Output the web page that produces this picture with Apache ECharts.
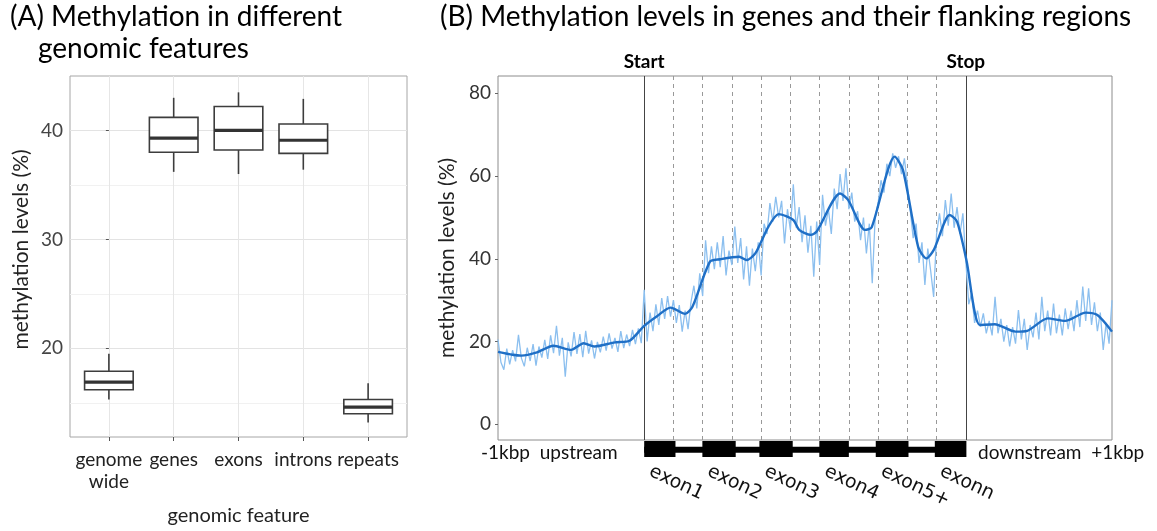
<!DOCTYPE html>
<html lang="en">
  <head>
    <meta charset="UTF-8" />
    <title>Methylation</title>
    <script src="https://cdn.jsdelivr.net/npm/echarts@6.0.0/dist/echarts.min.js"></script>
  </head>

  <body style="margin: 0; background: #fff">
    <div id="main" style="width: 1157px; height: 531px"></div>

    <script>
      // (A) boxplot by genomic feature
      var featureNames = ["genome\nwide", "genes", "exons", "introns", "repeats"];
      var boxLow = [15.3, 36.2, 36.0, 36.4, 13.2];
      var boxQ1 = [16.2, 38.0, 38.2, 37.9, 14.0];
      var boxMedian = [16.9, 39.3, 40.0, 39.1, 14.6];
      var boxQ3 = [17.9, 41.2, 42.2, 40.6, 15.3];
      var boxHigh = [19.5, 43.0, 43.5, 42.9, 16.8];
      var yTicksA = [20, 30, 40];
      var yMinorA = [15, 25, 35];

      // (B) methylation profile, bins of 0.1 (upstream 0-5, gene 5-16, downstream 16-21)
      var binStep = 0.1;
      var methRaw = [
        20.5, 15.0, 13.2, 18.3, 14.5, 17.9, 15.2, 21.6, 16.0, 14.0,
        18.5, 15.3, 19.4, 14.2, 18.8, 16.1, 20.4, 15.8, 21.5, 17.2,
        23.8, 16.6, 20.9, 11.5, 19.8, 16.4, 22.3, 17.0, 21.8, 16.2,
        22.6, 17.1, 20.3, 15.9, 19.9, 17.4, 21.2, 17.8, 22.0, 18.3,
        20.9, 17.5, 22.5, 18.4, 21.7, 18.9, 22.8, 19.4, 23.2, 19.6,
        32.5, 20.0, 27.0, 22.5, 29.0, 24.0, 30.5, 25.5, 31.0, 26.0,
        30.0, 24.5, 28.8, 22.4, 27.5, 23.0, 29.5, 33.5, 28.0, 36.5,
        31.0, 44.5, 36.5, 43.0, 37.5, 44.0, 38.0, 45.5, 36.0, 42.0,
        38.5, 47.8, 39.0, 45.0, 35.0, 43.0, 33.5, 42.5, 37.0, 44.0,
        36.0, 48.5, 46.0, 53.5, 49.0, 55.0, 50.0, 54.0, 43.7, 52.0,
        47.0, 58.0, 47.5, 52.5, 44.0, 50.5, 41.5, 48.0, 35.7, 49.0,
        38.5, 55.5, 48.0, 52.0, 46.0, 57.0, 52.0, 60.5, 54.0, 61.9,
        52.0, 56.0, 49.0, 51.5, 44.5, 50.0, 41.3, 48.5, 34.1, 50.0,
        53.5, 59.0, 56.0, 63.0, 60.0, 65.5, 62.0, 64.8, 60.5, 64.3,
        58.0, 51.8, 45.0, 48.5, 39.0, 44.0, 33.7, 42.5, 37.0, 30.8,
        46.0, 51.0, 45.5, 54.2, 48.0, 55.8, 47.5, 52.5, 46.0, 51.0,
        39.5, 29.0, 31.7, 24.5, 27.5, 23.6, 26.8, 22.0, 25.0, 21.5,
        30.8, 22.0, 25.5, 20.0, 24.0, 18.8, 23.5, 19.5, 27.6, 20.5,
        25.5, 18.0, 24.0, 21.0, 27.0, 20.5, 30.8, 22.5, 27.5, 21.5,
        29.2, 22.0, 26.5, 21.5, 28.0, 23.0, 27.5, 22.5, 30.0, 23.5,
        33.3, 25.0, 32.9, 24.0, 29.5, 22.5, 27.0, 18.0, 24.5, 19.5,
        30.0
      ];
      var smoothX = [0, 0.5, 0.8, 1.3, 1.9, 2.5, 2.93, 3.3, 4.0, 4.5, 5.0, 5.45, 5.9, 6.4, 6.65,
        7.25, 7.6, 8.25, 8.5, 8.8, 9.25, 9.6, 10.1, 10.3, 10.7, 10.9, 11.7, 11.98, 12.55, 12.78,
        13.57, 13.85, 14.37, 14.65, 14.9, 15.45, 15.7, 16.02, 16.48, 16.99, 17.7, 18.1, 18.8, 19.4,
        20.1, 20.5, 21];
      var smoothY = [17.5, 16.8, 16.6, 17.3, 19.0, 18.0, 19.6, 18.8, 19.8, 20.2, 23.8, 26.2, 28.2, 26.7, 28.4,
        39.3, 39.9, 40.5, 39.7, 41.3, 47.8, 50.8, 49.4, 47.0, 45.8, 46.6, 55.8, 54.2, 47.0, 47.6,
        64.7, 61.5, 42.9, 40.1, 42.1, 50.6, 49.0, 39.7, 24.0, 24.2, 22.4, 22.6, 25.6, 25.0,
        27.0, 26.4, 22.4];
      var yTicksB = [0, 20, 40, 60, 80];
      var geneStart = 5, geneStop = 16;
      var dashedAt = [6, 7, 8, 9, 10, 11, 12, 13, 14, 15];
      var exonNames = ["exon1", "exon2", "exon3", "exon4", "exon5+", "exonn"];
      var exonStarts = [5.0, 6.99, 8.94, 10.99, 12.92, 14.94];
      var exonEnds = [6.07, 8.13, 10.08, 12.0, 14.04, 16.02];

      var FONT = "Lato";
      var boxData = featureNames.map(function (n, i) {
        return [i, boxLow[i], boxQ1[i], boxMedian[i], boxQ3[i], boxHigh[i]];
      });
      var rawData = methRaw.map(function (v, i) {
        return [+(i * binStep).toFixed(1), v];
      });
      var smoothData = smoothX.map(function (x, i) {
        return [x, smoothY[i]];
      });
      var exonData = exonNames.map(function (n, i) {
        return [exonStarts[i], exonEnds[i]];
      });

      var edgeLabel = { show: true, position: "end", distance: 5, fontFamily: FONT, fontSize: 19,
        fontWeight: "bold", color: "#000" };
      var markLines = [
        { xAxis: geneStart, lineStyle: { type: "solid", color: "#444", width: 1 },
          label: Object.assign({ formatter: "Start" }, edgeLabel) },
        { xAxis: geneStop, lineStyle: { type: "solid", color: "#444", width: 1 },
          label: Object.assign({ formatter: "Stop" }, edgeLabel) }
      ].concat(dashedAt.map(function (x) {
        return { xAxis: x, lineStyle: { type: [4, 4], color: "#999", width: 1 }, label: { show: false } };
      }));

      function renderBox(params, api) {
        var x = api.value(0);
        var lo = api.coord([x, api.value(1)]);
        var q1 = api.coord([x, api.value(2)]);
        var md = api.coord([x, api.value(3)]);
        var q3 = api.coord([x, api.value(4)]);
        var hi = api.coord([x, api.value(5)]);
        var w = api.size([0.75, 0])[0];
        var line = { stroke: "#3d3d3d", lineWidth: 1.6 };
        return {
          type: "group",
          children: [
            { type: "line", shape: { x1: lo[0], y1: lo[1], x2: q1[0], y2: q1[1] }, style: line },
            { type: "line", shape: { x1: q3[0], y1: q3[1], x2: hi[0], y2: hi[1] }, style: line },
            { type: "rect", shape: { x: q3[0] - w / 2, y: q3[1], width: w, height: q1[1] - q3[1] },
              style: { stroke: "#3d3d3d", lineWidth: 1.6, fill: "#fff" } },
            { type: "line", shape: { x1: md[0] - w / 2, y1: md[1], x2: md[0] + w / 2, y2: md[1] },
              style: { stroke: "#333", lineWidth: 3.2 } }
          ]
        };
      }

      function renderIntron(params, api) {
        var a = api.coord([api.value(0), 0.45]);
        var b = api.coord([api.value(1), 0.45]);
        return { type: "rect", shape: { x: a[0], y: a[1] - 3, width: b[0] - a[0], height: 6 },
          style: { fill: "#000" } };
      }

      function renderExon(params, api) {
        var a = api.coord([api.value(0), 1]);
        var b = api.coord([api.value(1), 0]);
        return {
          type: "group",
          children: [
            { type: "rect", shape: { x: a[0], y: a[1], width: b[0] - a[0], height: b[1] - a[1] },
              style: { fill: "#000" } },
            { type: "text", x: a[0] + 10, y: b[1] + 5, rotation: -25 * Math.PI / 180,
              style: { text: exonNames[params.dataIndex], font: "19px 'DejaVu Sans'",
                fill: "#111", textAlign: "left", textVerticalAlign: "top" } }
          ]
        };
      }

      var chart = echarts.init(document.getElementById("main"));
      var titleStyle = { fontFamily: FONT, fontSize: 28, fontWeight: "normal", color: "#000" };
      var option = {
        animation: false,
        backgroundColor: "#fff",
        textStyle: { fontFamily: FONT },
        title: [
          { text: "(A) Methylation in different", left: 10, top: 3, padding: 0, textStyle: titleStyle },
          { text: "genomic features", left: 38, top: 35, padding: 0, textStyle: titleStyle },
          { text: "(B) Methylation levels in genes and their flanking regions", left: 440, top: 3,
            padding: 0, textStyle: titleStyle }
        ],
        grid: [
          { left: 70, top: 76, width: 337, height: 363, show: true, borderColor: "#a6a6a6", borderWidth: 1 },
          { left: 498, top: 76, width: 614, height: 364, show: true, borderColor: "#8c8c8c", borderWidth: 1 },
          { left: 498, top: 441, width: 614, height: 16 }
        ],
        xAxis: [
          { type: "value", gridIndex: 0, min: -0.6, max: 4.6,
            name: "genomic feature", nameLocation: "middle", nameGap: 69,
            nameTextStyle: { fontFamily: FONT, fontSize: 20, color: "#222" },
            axisLine: { show: false },
            axisTick: { show: true, length: 4, customValues: [0, 1, 2, 3, 4], lineStyle: { color: "#555" } },
            axisLabel: { customValues: [0, 1, 2, 3, 4], margin: 12, fontSize: 19, color: "#222",
              lineHeight: 22, formatter: function (v) { return featureNames[Math.round(v)]; } },
            splitLine: { show: true, lineStyle: { color: "#e6e6e6", width: 1 } } },
          { type: "value", gridIndex: 1, min: 0, max: 21, show: false },
          { type: "value", gridIndex: 2, min: 0, max: 21, show: false }
        ],
        yAxis: [
          { type: "value", gridIndex: 0, min: 11.86, max: 45,
            name: "methylation levels (%)", nameLocation: "middle", nameGap: 38,
            nameTextStyle: { fontFamily: FONT, fontSize: 21, color: "#222", padding: [0, 0, 0, 14] },
            axisLine: { show: false },
            axisTick: { show: true, length: 3, customValues: yTicksA, lineStyle: { color: "#555" } },
            axisLabel: { customValues: yTicksA, fontSize: 19, color: "#444", margin: 7 },
            splitLine: { show: true, lineStyle: { color: "#e3e3e3", width: 1 } } },
          { type: "value", gridIndex: 0, min: 11.86, max: 45, position: "right",
            axisLine: { show: false }, axisLabel: { show: false },
            axisTick: { show: false, customValues: yMinorA },
            splitLine: { show: true, lineStyle: { color: "#f1f1f1", width: 1 } } },
          { type: "value", gridIndex: 1, min: -3.8, max: 84.2,
            name: "methylation levels (%)", nameLocation: "middle", nameGap: 33,
            nameTextStyle: { fontFamily: FONT, fontSize: 21, color: "#222" },
            axisLine: { show: false },
            axisTick: { show: true, length: 3, customValues: yTicksB, lineStyle: { color: "#666" } },
            axisLabel: { customValues: yTicksB, fontSize: 19, color: "#333", margin: 7 },
            splitLine: { show: false } },
          { type: "value", gridIndex: 2, min: 0, max: 1, show: false }
        ],
        series: [
          { type: "custom", xAxisIndex: 0, yAxisIndex: 0, data: boxData, renderItem: renderBox,
            encode: { x: 0, y: [1, 2, 3, 4, 5] }, silent: true },
          { type: "line", xAxisIndex: 1, yAxisIndex: 2, data: rawData, showSymbol: false,
            lineStyle: { color: "#8bbfef", width: 1.3 }, silent: true, z: 3,
            markLine: { symbol: ["none", "none"], silent: true, z: 2, label: edgeLabel,
              data: markLines } },
          { type: "line", xAxisIndex: 1, yAxisIndex: 2, data: smoothData, showSymbol: false,
            smooth: 0.25, lineStyle: { color: "#1f6fc6", width: 2.4 }, silent: true, z: 4 },
          { type: "custom", xAxisIndex: 2, yAxisIndex: 3, data: [[geneStart, geneStop]],
            renderItem: renderIntron, silent: true },
          { type: "custom", xAxisIndex: 2, yAxisIndex: 3, data: exonData,
            renderItem: renderExon, silent: true, clip: false }
        ],
        graphic: [
          { type: "text", left: 481, top: 443, style: { text: "-1kbp  upstream",
            font: "19px Lato", fill: "#111" } },
          { type: "text", left: 978, top: 443, style: { text: "downstream  +1kbp",
            font: "19px Lato", fill: "#111" } }
        ]
      };
      chart.setOption(option);
    </script>
  </body>
</html>
